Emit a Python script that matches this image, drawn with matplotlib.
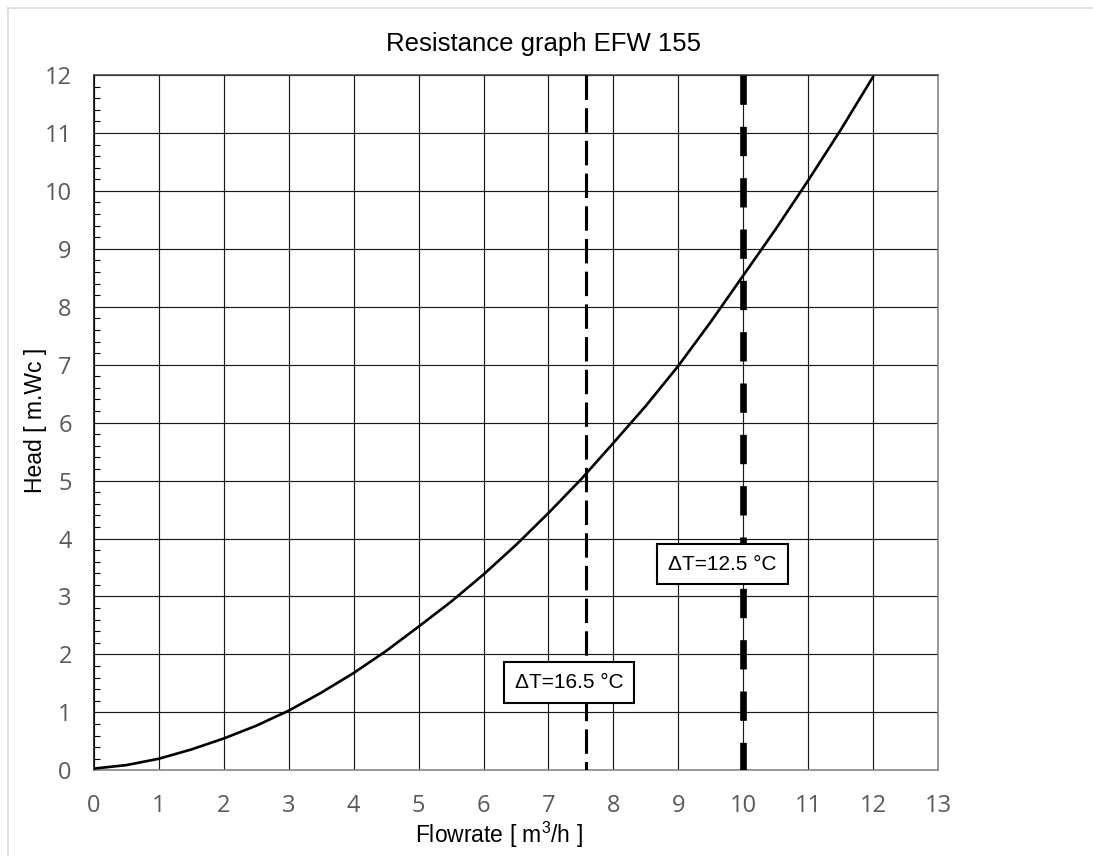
import numpy as np
import matplotlib.pyplot as plt
from matplotlib.lines import Line2D

# Resistance curve (every 0.5 m3/h)
flow = [0, 0.5, 1, 1.5, 2, 2.5, 3, 3.5, 4, 4.5, 5, 5.5, 6, 6.5,
        7, 7.5, 8, 8.5, 9, 9.5, 10, 10.5, 11, 11.5, 12]
head = [0.03, 0.09, 0.2, 0.36, 0.55, 0.77, 1.03, 1.34, 1.68, 2.06, 2.48, 2.91, 3.38, 3.89,
        4.44, 5.02, 5.65, 6.29, 6.98, 7.74, 8.54, 9.34, 10.18, 11.05, 11.97]

# Design flow markers (delta T lines)
marker_flow = [7.58, 10.0]
marker_labels = ['\u0394T=16.5 \u00b0C', '\u0394T=12.5 \u00b0C']
label_pos = [(7.32, 1.51), (9.68, 3.56)]

x_ticks = list(range(0, 14))
y_ticks = list(range(0, 13))

plt.rcParams['font.family'] = ['Liberation Sans', 'DejaVu Sans']
plt.rcParams['mathtext.fontset'] = 'custom'
plt.rcParams['mathtext.rm'] = 'Liberation Sans'
plt.rcParams['mathtext.default'] = 'regular'

fig = plt.figure(figsize=(10.93, 8.56), dpi=100)
ax = fig.add_axes([0.0860, 0.1001, 0.7722, 0.8123])

# curve
ax.plot(flow, head, color='black', lw=1.9, zorder=4, solid_capstyle='round',
        solid_joinstyle='round')

# vertical dashed marker lines (drawn top-down so the dash pattern starts at the top)
ax.plot([marker_flow[0], marker_flow[0]], [12, 0], color='black', lw=2.2,
        dashes=(8, 2.7), dash_capstyle='butt', zorder=3)
ax.plot([marker_flow[1], marker_flow[1]], [12, 0], color='black', lw=4.8,
        dashes=(4.4, 3.3), dash_capstyle='butt', zorder=3)

# labels in boxes
for (lx, ly), txt in zip(label_pos, marker_labels):
    ax.text(lx, ly, txt, ha='center', va='center', fontsize=15, zorder=6,
            bbox=dict(boxstyle='square,pad=0.52', facecolor='white',
                      edgecolor='black', linewidth=1.5))

ax.set_xlim(0, 13)
ax.set_ylim(0, 12)
ax.set_xticks(x_ticks)
ax.set_yticks(y_ticks)
ax.set_yticks(np.arange(0, 12.01, 0.2), minor=True)
ax.set_xticklabels([str(v) for v in x_ticks], fontfamily='Open Sans', fontsize=17, color='#595959')
ax.set_yticklabels([str(v) for v in y_ticks], fontfamily='Open Sans', fontsize=17, color='#595959')

ax.tick_params(axis='x', which='major', length=0, pad=17)
ax.tick_params(axis='y', which='major', length=0, pad=16)
ax.tick_params(axis='y', which='minor', direction='in', length=4.2, width=0.8, color='black')

ax.grid(True, which='major', color='#1a1a1a', lw=0.85)
ax.set_axisbelow(True)

ax.spines['left'].set_color('black')
ax.spines['top'].set_color('#404040')
ax.spines['right'].set_color('#808080')
ax.spines['bottom'].set_color('#808080')
for s in ax.spines.values():
    s.set_linewidth(1.1)

# title and axis labels
fig.text(543 / 1093, 1 - 51 / 856, 'Resistance graph EFW 155', ha='center', va='baseline', fontsize=18.5)
fig.text(499 / 1093, 1 - 843 / 856, 'Flowrate [ m$^3$/h ]', ha='center', va='baseline', fontsize=16.5)
fig.text(36 / 1093, 1 - 420 / 856, 'Head [ m.Wc ]', ha='center', va='center', rotation=90, fontsize=16.5)

# light frame round the chart area
fig.add_artist(Line2D([8 / 1093, 8 / 1093], [0, 1 - 8 / 856], transform=fig.transFigure,
                      color='#d9d9d9', lw=1.2))
fig.add_artist(Line2D([8 / 1093, 1], [1 - 8 / 856, 1 - 8 / 856], transform=fig.transFigure,
                      color='#d9d9d9', lw=1.2))

fig.savefig('out.png', dpi=100)
